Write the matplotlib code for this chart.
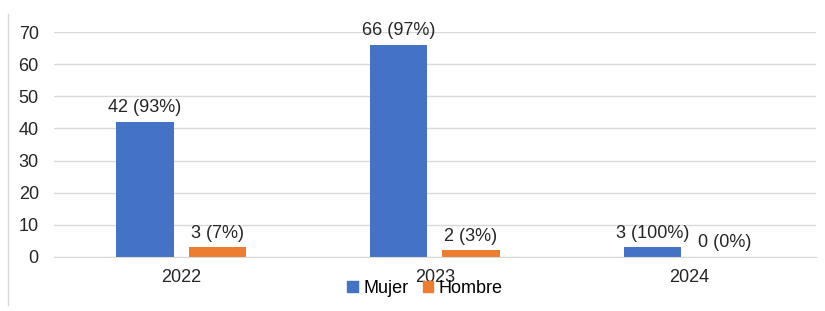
import numpy as np
import matplotlib.pyplot as plt
from matplotlib.lines import Line2D
from matplotlib.patches import Patch

years = ['2022', '2023', '2024']
mujer = [42, 66, 3]
hombre = [3, 2, 0]
mujer_lbl = ['42 (93%)', '66 (97%)', '3 (100%)']
hombre_lbl = ['3 (7%)', '2 (3%)', '0 (0%)']

plt.rcParams['font.family'] = ['Liberation Sans', 'DejaVu Sans']

fig = plt.figure(figsize=(8.25, 3.11), dpi=100)
ax = fig.add_axes([0.0655, 0.174, 0.9235, 0.723])

x = np.arange(len(years))
w = 0.225
b1 = ax.bar(x - 0.142, mujer, w, color='#4472C4')
b2 = ax.bar(x + 0.142, hombre, w, color='#ED7D31')

# value labels above the bars
for bars, labels in [(b1, mujer_lbl), (b2, hombre_lbl)]:
    for rect, t in zip(bars, labels):
        ax.annotate(t, (rect.get_x() + rect.get_width() / 2, rect.get_height()),
                    xytext=(0, 4), textcoords='offset points', ha='center', va='bottom',
                    fontsize=13, color='#262626')

ax.set_xlim(-0.5, 2.5)
ax.set_ylim(0, 70)
ax.set_yticks(range(0, 71, 10))
ax.set_xticks(x)
ax.set_xticklabels(years)
ax.yaxis.grid(True, color='#d9d9d9', linewidth=1)
ax.set_axisbelow(True)
for s in ['top', 'right', 'left']:
    ax.spines[s].set_visible(False)
ax.spines['bottom'].set_color('#d9d9d9')
ax.tick_params(axis='both', length=0, labelsize=13, labelcolor='#262626')
ax.tick_params(axis='y', pad=11)
ax.tick_params(axis='x', pad=9)

handles = [Patch(color='#4472C4'), Patch(color='#ED7D31')]
fig.legend(handles, ['Mujer', 'Hombre'], loc='center', bbox_to_anchor=(0.515, 0.072),
           ncol=2, frameon=False, fontsize=13, handlelength=0.6, handleheight=0.6,
           handletextpad=0.3, columnspacing=0.8)

fig.add_artist(Line2D([0.0097, 0.0097], [0.02, 0.955], color='#d9d9d9', linewidth=1))

fig.savefig('out.png', dpi=100)
